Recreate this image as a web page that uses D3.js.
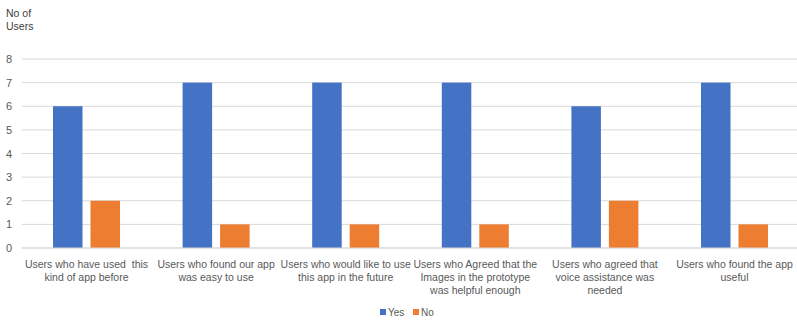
<!DOCTYPE html>
<html><head><meta charset="utf-8">
<script src="https://cdn.jsdelivr.net/npm/d3@7"></script>
<style>body{margin:0;background:#fff}svg{display:block}text{white-space:pre}</style>
</head><body>
<svg id="c" width="797" height="321"></svg>
<script>
const categories = [
  ["Users who have used  this", "kind of app before"],
  ["Users who found our app", "was easy to use"],
  ["Users who would like to use", "this app in the future"],
  ["Users who Agreed that the", "Images in the prototype", "was helpful enough"],
  ["Users who agreed that", "voice assistance was", "needed"],
  ["Users who found the app", "useful"]
];
const yesValues = [6, 7, 7, 7, 6, 7];
const noValues = [2, 1, 1, 1, 2, 1];
const seriesNames = ["Yes", "No"];
const yTicks = [0, 1, 2, 3, 4, 5, 6, 7, 8];

(function () {
const svg = d3.select("#c");
const font = "Liberation Sans, Arial, sans-serif";
const mLeft = 21.7, mRight = 799.3, mTop = 59, mBottom = 248;
const colors = {Yes: "#4472C4", No: "#ED7D31"};

const x0 = d3.scaleBand().domain(d3.range(categories.length)).range([mLeft, mRight]).paddingInner(0).paddingOuter(0);
const y = d3.scaleLinear().domain([0, 8]).range([mBottom, mTop]);

svg.append("g").selectAll("line").data(yTicks).join("line")
  .attr("x1", mLeft).attr("x2", 797)
  .attr("y1", d => y(d)).attr("y2", d => y(d))
  .attr("stroke", "#D9D9D9").attr("stroke-width", 1);

svg.append("g").selectAll("text").data(yTicks).join("text")
  .attr("x", 9).attr("y", d => y(d) + 4)
  .attr("text-anchor", "middle")
  .attr("font-family", font).attr("font-size", 11).attr("fill", "#595959")
  .text(d => d);

svg.append("text").attr("font-family", font).attr("font-size", 10.5).attr("fill", "#404040")
  .selectAll("tspan").data(["No of", "Users"]).join("tspan")
  .attr("x", 6).attr("y", (d, i) => 17 + i * 13).text(d => d);

const bw = x0.bandwidth();
const barW = 29.5, gap = 8;
const groupW = barW * 2 + gap;
const data = categories.map((c, i) => ({i, vals: [yesValues[i], noValues[i]]}));

const g = svg.append("g");
data.forEach(d => {
  const cx = x0(d.i) + bw / 2;
  d.vals.forEach((v, k) => {
    const xs = cx - groupW / 2 + k * (barW + gap);
    g.append("rect")
      .attr("x", xs).attr("width", barW)
      .attr("y", y(v)).attr("height", y(0) - y(v))
      .attr("fill", colors[seriesNames[k]]);
  });
});

svg.append("line").attr("x1", mLeft).attr("x2", 797).attr("y1", y(0)).attr("y2", y(0))
  .attr("stroke", "#D9D9D9");

const xl = svg.append("g");
categories.forEach((lines, i) => {
  const cx = x0(i) + bw / 2;
  xl.append("text").attr("font-family", font).attr("font-size", 10.5).attr("fill", "#595959")
    .attr("text-anchor", "middle")
    .selectAll("tspan").data(lines).join("tspan")
    .attr("x", cx).attr("y", (d, j) => 268 + j * 13).text(d => d);
});

const lg = svg.append("g");
const legendItems = [{n: "Yes", x: 380}, {n: "No", x: 413}];
legendItems.forEach(it => {
  lg.append("rect").attr("x", it.x).attr("y", 309).attr("width", 6).attr("height", 6).attr("fill", colors[it.n]);
  lg.append("text").attr("x", it.x + 8).attr("y", 315.5).attr("font-family", font).attr("font-size", 10)
    .attr("fill", "#595959").text(it.n);
});
})();
</script>
</body></html>
